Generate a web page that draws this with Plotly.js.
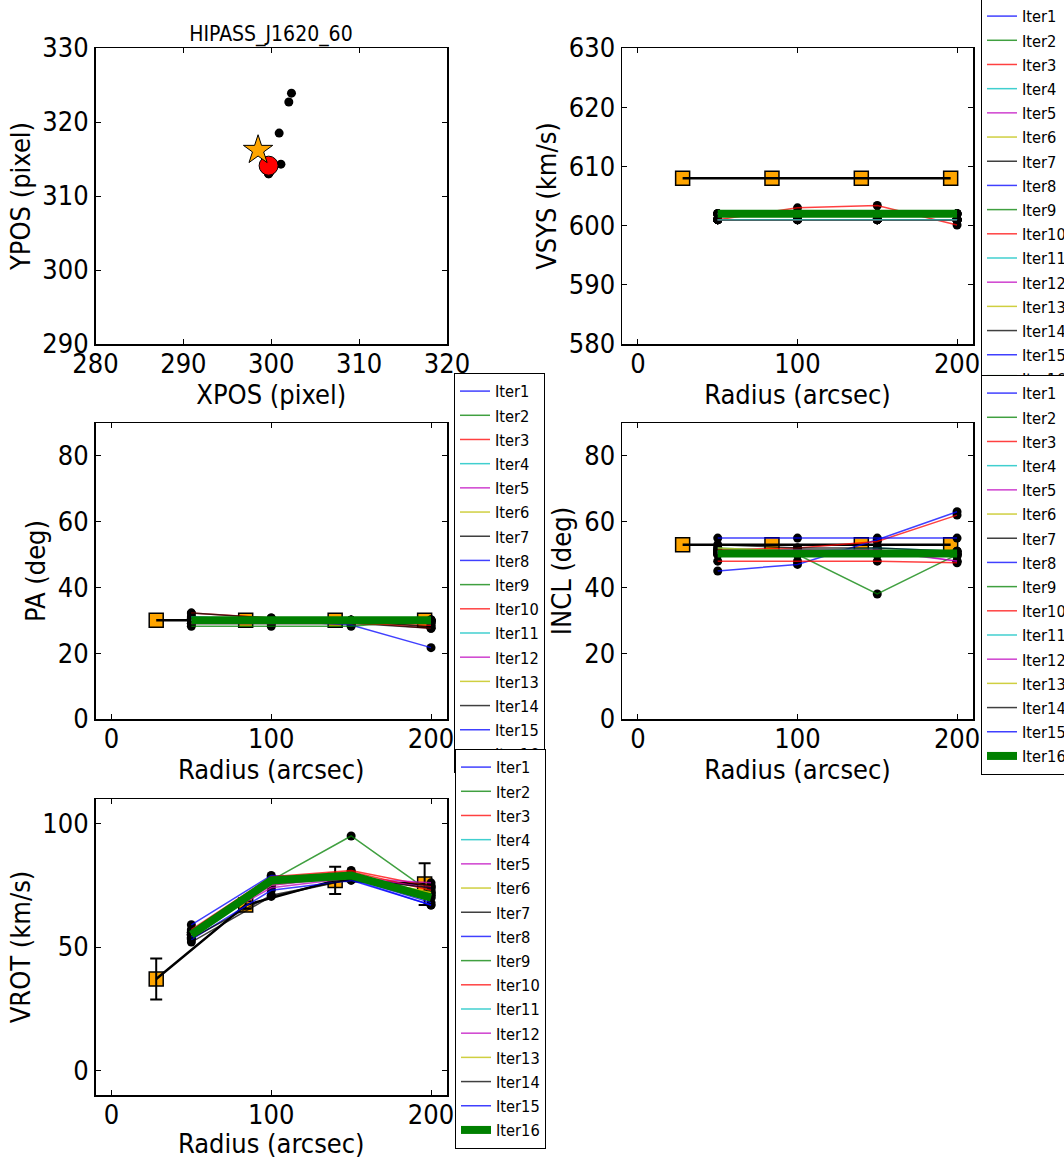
<!DOCTYPE html>
<html>
<head>
<meta charset="utf-8">
<script src="https://cdn.plot.ly/plotly-3.0.1.min.js"></script>
<style>
html,body{margin:0;padding:0;background:#ffffff;}
#chart{width:1064px;height:1159px;}
</style>
</head>
<body>
<div id="chart"></div>
<script>
// ---------------- data ----------------
const iterNames = ['Iter1','Iter2','Iter3','Iter4','Iter5','Iter6','Iter7','Iter8',
                   'Iter9','Iter10','Iter11','Iter12','Iter13','Iter14','Iter15','Iter16'];
const iterColors = ['#0000ff','#008000','#ff0000','#00bfbf','#bf00bf','#bfbf00','#000000',
                    '#0000ff','#008000','#ff0000','#00bfbf','#bf00bf','#bfbf00','#000000',
                    '#0000ff','#008000'];

const radius = [50, 100, 150, 200];          // fitted ring radii (arcsec)
const modelRadius = [28, 84, 140, 196];      // initial model radii (arcsec)

// centre positions per iteration (pixel)
const xposIter = [302.3, 302.0, 300.9, 301.1, 299.8, 299.7, 299.9, 299.8,
                  299.8, 299.7, 299.8, 299.8, 299.7, 299.8, 299.8, 299.7];
const yposIter = [323.9, 322.7, 318.5, 314.3, 313.2, 313.0, 313.4, 313.5,
                  313.3, 313.1, 313.4, 313.2, 313.0, 313.3, 313.4, 313.3];
const xposFinal = [299.7];
const yposFinal = [314.1];
const xposInit = [298.5];
const yposInit = [316.2];

// initial model values
const vsysModel = [608, 608, 608, 608];
const paModel = [30, 30, 30, 30];
const inclModel = [53, 53, 53, 53];
const vrotModel = [37, 67, 77, 75.5];
const vrotModelErr = [8.3, 1.5, 5.5, 8.5];

// iteration values, one row per iteration, columns follow `radius`
const vsysIter = [
  [601, 601, 601, 601], [601, 601, 601, 601], [601, 603, 603.4, 600.1], [601, 601, 601, 601],
  [601, 601, 601, 601], [601, 601, 601, 601], [601, 601, 601, 601], [601, 601, 601, 601],
  [601, 601, 601, 601], [601, 601, 601, 601], [601, 601, 601, 601], [602, 602, 602, 602],
  [602, 602, 602, 602], [602, 602, 602, 602], [602, 602, 602, 602], [602, 602, 602, 602]
];
const paIter = [
  [31, 30, 28.6, 21.7], [30, 30, 30, 30], [32.2, 30.7, 29.5, 27.6], [31, 30.5, 30, 29],
  [30.5, 30, 30, 29.5], [30, 30, 30, 29.5], [32.2, 30.7, 29, 27.6], [29, 29, 29, 29.5],
  [28.2, 28.2, 28.2, 30.2], [29, 29, 29, 28.5], [30, 30, 30, 30], [30, 30, 30, 30],
  [30, 30, 30, 30], [30.5, 30, 30, 28], [30, 30, 30, 30], [30, 30, 30, 30]
];
const inclIter = [
  [45, 47, 54.5, 63], [51, 50, 50, 50], [51.5, 52, 54, 62], [52, 51, 52, 51],
  [51, 51.5, 51, 48], [52, 51, 51, 50], [53, 52, 52, 51], [55, 55, 55, 55],
  [50, 50, 38, 50], [48, 48, 48, 47.5], [51, 50.5, 50, 50], [50.5, 51, 51.5, 48],
  [50.5, 50.5, 50.5, 50.5], [50, 50, 50, 51], [50.5, 50, 51, 49.5], [50.3, 50.3, 50.3, 50.3]
];
const vrotIter = [
  [59, 79, 77.5, 67], [56, 77, 95, 72], [57, 78.5, 81, 74.5], [55, 76, 79, 71],
  [56, 74, 78, 76], [55, 75, 79, 72], [52, 70.5, 77.5, 75], [53, 73, 77, 67],
  [55, 77, 80, 70], [56.5, 78, 80.5, 73], [55, 76.5, 79, 71], [55.5, 75, 78.5, 74],
  [55, 76, 79, 72], [53.5, 71, 77.5, 74], [54, 76, 78, 68], [55, 77, 79, 70]
];

// ---------------- styling ----------------
const FONT = 'DejaVu Sans Condensed, DejaVu Sans, sans-serif';
const W = 1064, H = 1159;
const px = (a, b) => [a / W, b / W];
const py = (top, bottom) => [1 - bottom / H, 1 - top / H];
const colL = px(95.5, 447), colR = px(622, 973);
const row1 = py(48, 344), row2 = py(423, 719), row3 = py(799, 1095);

function axis(extra, titleText, isX) {
  return Object.assign({
    showline: true, linecolor: '#000', linewidth: 1.5, mirror: 'ticks',
    ticks: 'inside', ticklen: 5, tickwidth: 1, tickcolor: '#000',
    showgrid: false, zeroline: false, automargin: false, fixedrange: true,
    ticklabelstandoff: isX ? -5 : 0,
    tickfont: {family: FONT, size: 27, color: '#000'},
    title: {text: titleText, font: {family: FONT, size: 27, color: '#000'}, standoff: 4}
  }, extra);
}

const traces = [];

// panel 1: centre positions
traces.push({type: 'scatter', mode: 'markers', x: xposIter, y: yposIter, xaxis: 'x', yaxis: 'y',
  marker: {color: '#000', size: 9}, showlegend: false, hoverinfo: 'skip'});
traces.push({type: 'scatter', mode: 'markers', x: xposFinal, y: yposFinal, xaxis: 'x', yaxis: 'y',
  marker: {color: '#ff0000', size: 19, line: {color: '#000', width: 1}}, showlegend: false, hoverinfo: 'skip'});
traces.push({type: 'scatter', mode: 'markers', x: xposInit, y: yposInit, xaxis: 'x', yaxis: 'y',
  marker: {color: '#ffa500', size: 22, symbol: 'star', line: {color: '#000', width: 1}}, showlegend: false, hoverinfo: 'skip'});

function addPanel(ax, legendId, model, modelErr, iters) {
  const xa = 'x' + ax, ya = 'y' + ax;
  // initial model squares
  traces.push({type: 'scatter', mode: 'markers', x: modelRadius, y: model, xaxis: xa, yaxis: ya,
    marker: {symbol: 'square', size: 14, color: '#ffa500', line: {color: '#000', width: 1.5}},
    showlegend: false, hoverinfo: 'skip'});
  if (modelErr) {
    traces.push({type: 'scatter', mode: 'markers', x: modelRadius, y: model, xaxis: xa, yaxis: ya,
      marker: {size: 4, opacity: 0},
      error_y: {type: 'data', array: modelErr, visible: true, color: '#000', thickness: 2, width: 6},
      showlegend: false, hoverinfo: 'skip'});
  }
  traces.push({type: 'scatter', mode: 'lines', x: modelRadius, y: model, xaxis: xa, yaxis: ya,
    line: {color: '#000', width: 2.5}, showlegend: false, hoverinfo: 'skip'});
  // iteration points
  const dx = [], dy = [];
  iters.forEach(row => row.forEach((v, j) => { dx.push(radius[j]); dy.push(v); }));
  traces.push({type: 'scatter', mode: 'markers', x: dx, y: dy, xaxis: xa, yaxis: ya,
    marker: {color: '#000', size: 9}, showlegend: false, hoverinfo: 'skip'});
  // iteration lines
  iters.forEach((row, i) => {
    const last = i === iters.length - 1;
    traces.push({type: 'scatter', mode: 'lines', x: radius, y: row, xaxis: xa, yaxis: ya,
      name: iterNames[i], legend: legendId, showlegend: true,
      line: {color: iterColors[i], width: last ? 8 : 1.5},
      opacity: last ? 1 : 0.75, hoverinfo: 'skip'});
  });
}

addPanel('2', 'legend', vsysModel, null, vsysIter);
addPanel('3', 'legend2', paModel, null, paIter);
addPanel('4', 'legend3', inclModel, null, inclIter);
addPanel('5', 'legend4', vrotModel, vrotModelErr, vrotIter);

function legendBox(leftPx, topPx) {
  return {x: leftPx / W, y: 1 - topPx / H, xanchor: 'left', yanchor: 'top',
    bgcolor: '#ffffff', bordercolor: '#000', borderwidth: 1,
    font: {family: FONT, size: 16.3, color: '#000'}, traceorder: 'normal'};
}

const layout = {
  width: W, height: H,
  margin: {l: 0, r: 0, t: 0, b: 0, pad: 0, autoexpand: false},
  paper_bgcolor: '#ffffff', plot_bgcolor: '#ffffff',
  font: {family: FONT, size: 27, color: '#000'},
  hovermode: false,
  showlegend: true,
  title: {text: 'HIPASS_J1620_60', font: {family: FONT, size: 21, color: '#000'},
    x: 271 / W, xanchor: 'center', y: 1 - 34 / H, yanchor: 'middle'},
  xaxis: axis({domain: colL, range: [280, 320], tick0: 280, dtick: 10, anchor: 'y'}, 'XPOS (pixel)', true),
  yaxis: axis({domain: row1, range: [290, 330], tick0: 290, dtick: 10, anchor: 'x'}, 'YPOS (pixel)', false),
  xaxis2: axis({domain: colR, range: [-10, 210], tick0: 0, dtick: 100, anchor: 'y2'}, 'Radius (arcsec)', true),
  yaxis2: axis({domain: row1, range: [580, 630], tick0: 580, dtick: 10, anchor: 'x2'}, 'VSYS (km/s)', false),
  xaxis3: axis({domain: colL, range: [-10, 210], tick0: 0, dtick: 100, anchor: 'y3'}, 'Radius (arcsec)', true),
  yaxis3: axis({domain: row2, range: [0, 90], tick0: 0, dtick: 20, anchor: 'x3'}, 'PA (deg)', false),
  xaxis4: axis({domain: colR, range: [-10, 210], tick0: 0, dtick: 100, anchor: 'y4'}, 'Radius (arcsec)', true),
  yaxis4: axis({domain: row2, range: [0, 90], tick0: 0, dtick: 20, anchor: 'x4'}, 'INCL (deg)', false),
  xaxis5: axis({domain: colL, range: [-10, 210], tick0: 0, dtick: 100, anchor: 'y5'}, 'Radius (arcsec)', true),
  yaxis5: axis({domain: row3, range: [-10, 110], tick0: 0, dtick: 50, anchor: 'x5'}, 'VROT (km/s)', false),
  legend: legendBox(981, -2),
  legend2: legendBox(454, 373),
  legend3: legendBox(981, 375),
  legend4: legendBox(455, 749)
};

Plotly.newPlot('chart', traces, layout, {displayModeBar: false, staticPlot: true, responsive: false});
</script>
</body>
</html>
